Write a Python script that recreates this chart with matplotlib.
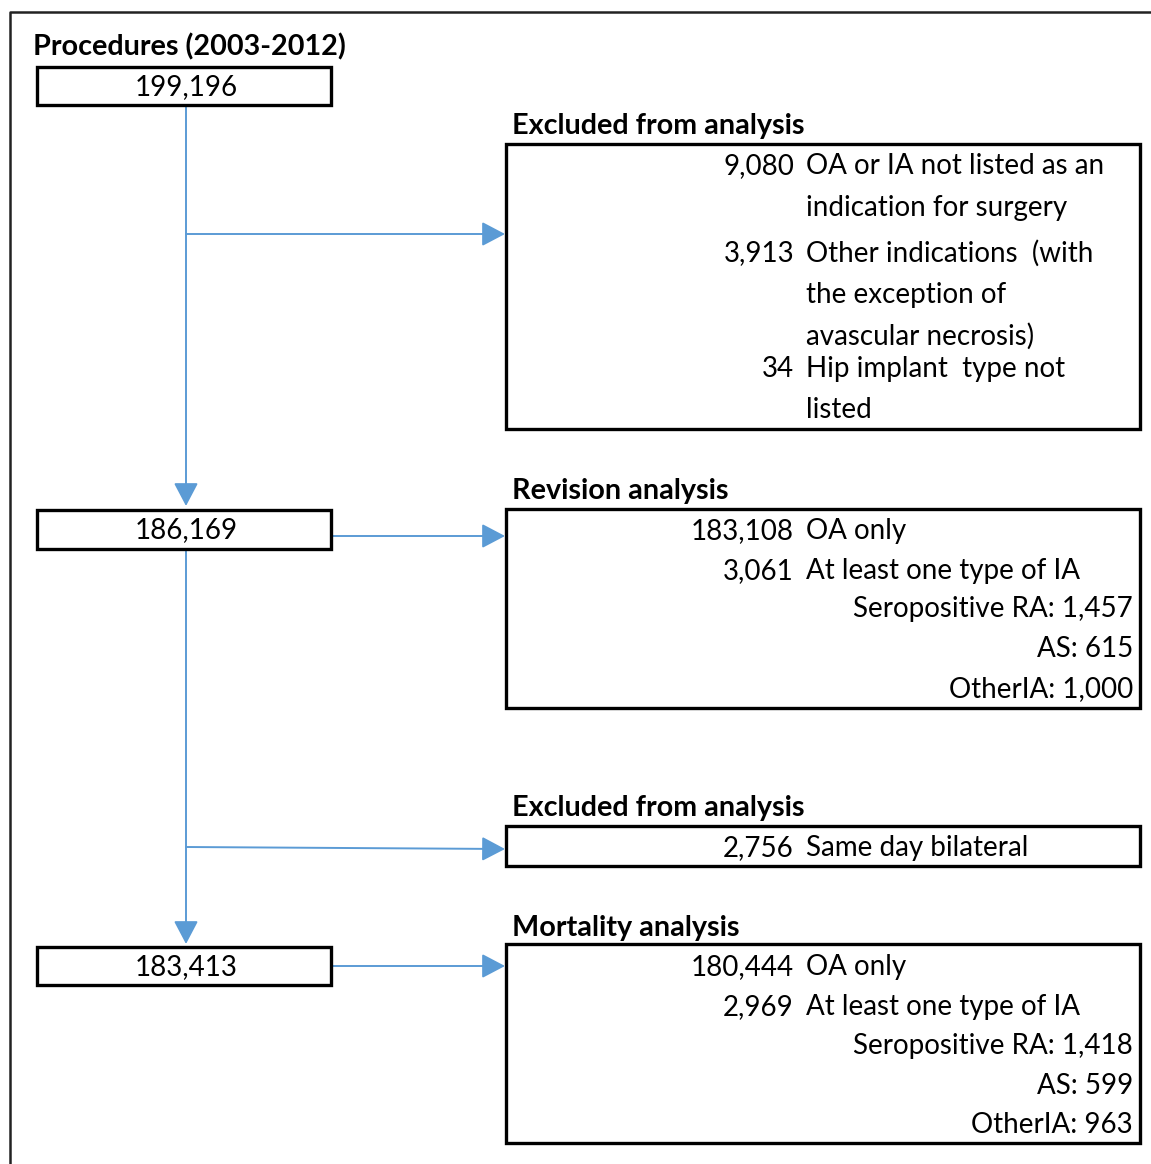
import matplotlib.pyplot as plt
from matplotlib.patches import Rectangle

plt.rcParams['font.family'] = ['Lato', 'DejaVu Sans']

# Data
main_titles = ["Procedures (2003-2012)", "", ""]
main_counts = ["199,196", "186,169", "183,413"]

side_titles = ["Excluded from analysis", "Revision analysis",
               "Excluded from analysis", "Mortality analysis"]

excl1_nums = ["9,080", "", "3,913", "", "", "34", ""]
excl1_text = ["OA or IA not listed as an", "indication for surgery",
              "Other indications  (with", "the exception of",
              "avascular necrosis)", "Hip implant  type not", "listed"]

rev_nums = ["183,108", "3,061"]
rev_text = ["OA only", "At least one type of IA"]
rev_sub = ["Seropositive RA: 1,457", "AS: 615", "OtherIA: 1,000"]

excl2_nums = ["2,756"]
excl2_text = ["Same day bilateral"]

mort_nums = ["180,444", "2,969"]
mort_text = ["OA only", "At least one type of IA"]
mort_sub = ["Seropositive RA: 1,418", "AS: 599", "OtherIA: 963"]

blue = "#5B9BD5"
fs = 20
fs_bold = 20.7

fig = plt.figure(figsize=(11.51, 11.64), dpi=100)
ax = fig.add_axes([0, 0, 1, 1])
ax.set_xlim(0, 1151)
ax.set_ylim(1164, 0)
ax.axis("off")

# outer frame (left and top only visible)
ax.plot([10, 10, 1151], [1164, 12, 12], color="#222222", lw=1.8)


def box(x0, y0, x1, y1):
    ax.add_patch(Rectangle((x0, y0), x1 - x0, y1 - y0, fill=False,
                           edgecolor="black", lw=2.4, zorder=3))


def arrow(x0, y0, x1, y1):
    ax.annotate("", xy=(x1, y1), xytext=(x0, y0),
                arrowprops=dict(arrowstyle="-|>,head_length=0.95,head_width=0.5",
                                color=blue, lw=1.4, shrinkA=0, shrinkB=0,
                                mutation_scale=15), zorder=2)


# left column boxes
left_y = [(67, 105), (510, 549), (947, 985)]
for (y0, y1), cnt in zip(left_y, main_counts):
    box(37, y0, 331, y1)
    ax.text(186, (y0 + y1) / 2 + 1, cnt, ha="center", va="center", fontsize=fs)
ax.text(33, 47, main_titles[0], ha="left", va="center", fontsize=fs_bold,
        fontweight="bold")

# vertical flow
vx = 186
arrow(vx, 105, vx, 506)
arrow(vx, 549, vx, 944)
# branches
arrow(vx, 234, 505, 234)
arrow(vx, 847, 505, 849)
arrow(331, 536, 505, 536)
arrow(331, 966, 505, 966)

# right boxes
right_boxes = [(144, 429), (509, 708), (826, 866), (944, 1143)]
title_y = [126, 491, 808, 928]
for (y0, y1), t, ty in zip(right_boxes, side_titles, title_y):
    box(506, y0, 1140, y1)
    ax.text(512, ty, t, ha="left", va="center", fontsize=fs_bold,
            fontweight="bold")

num_x, txt_x, sub_x = 794, 806, 1133


def rows(nums, texts, ys):
    for n, t, y in zip(nums, texts, ys):
        if n:
            ax.text(num_x, y, n, ha="right", va="center", fontsize=fs)
        ax.text(txt_x, y, t, ha="left", va="center", fontsize=fs)


rows(excl1_nums, excl1_text, [166, 208, 253, 295, 336, 369, 410])
rows(rev_nums, rev_text, [531, 571])
for t, y in zip(rev_sub, [609, 649, 689]):
    ax.text(sub_x, y, t, ha="right", va="center", fontsize=fs)
rows(excl2_nums, excl2_text, [848])
rows(mort_nums, mort_text, [967, 1007])
for t, y in zip(mort_sub, [1046, 1086, 1125]):
    ax.text(sub_x, y, t, ha="right", va="center", fontsize=fs)

fig.savefig("out.png", dpi=100)
